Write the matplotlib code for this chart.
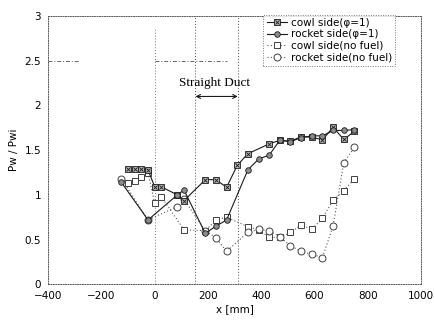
"""
Wall pressure distribution along the combustor (Pw / Pwi vs x).
Saves out.png
"""

import matplotlib
matplotlib.use("Agg")
import matplotlib.pyplot as plt
from matplotlib.legend_handler import HandlerTuple

# cowl side, phi = 1
x_cowl_fuel = [-100, -75, -50, -25, 0, 25, 85, 110, 190, 230, 270, 310, 350,
               430, 470, 510, 550, 590, 630, 670, 710, 750]
y_cowl_fuel = [1.29, 1.29, 1.29, 1.28, 1.09, 1.09, 1.00, 0.935, 1.17, 1.17, 1.085,
               1.33, 1.46, 1.57, 1.61, 1.60, 1.65, 1.645, 1.615, 1.755, 1.62, 1.71]

# rocket side, phi = 1
x_rock_fuel = [-125, -25, 85, 110, 190, 230, 270, 350, 390, 430, 470, 510, 550,
               590, 630, 670, 710, 750]
y_rock_fuel = [1.14, 0.72, 1.00, 1.055, 0.57, 0.65, 0.72, 1.28, 1.40, 1.445, 1.61,
               1.595, 1.64, 1.66, 1.66, 1.72, 1.72, 1.73]

# cowl side, no fuel
x_cowl_none = [-100, -75, -50, -25, 0, 25, 110, 190, 230, 270, 350, 390, 430,
               470, 510, 550, 590, 630, 670, 710, 750]
y_cowl_none = [1.13, 1.15, 1.20, 1.25, 0.905, 0.98, 0.61, 0.60, 0.72, 0.75, 0.645,
               0.61, 0.525, 0.525, 0.58, 0.665, 0.615, 0.74, 0.94, 1.045, 1.18]

# rocket side, no fuel
x_rock_none = [-125, -25, 85, 110, 190, 230, 270, 350, 390, 430, 470, 510, 550,
               590, 630, 670, 710, 750]
y_rock_none = [1.18, 0.72, 0.87, 0.95, 0.60, 0.52, 0.37, 0.58, 0.615, 0.60, 0.53,
               0.43, 0.37, 0.335, 0.30, 0.655, 1.36, 1.53]

duct_start, duct_end = 153, 312

fig = plt.figure(figsize=(4.34, 3.25), dpi=100)
ax = fig.add_axes([0.111, 0.125, 0.859, 0.826])

# reference lines
ax.axvline(0, ymax=0.95, color="0.45", lw=0.7, ls=(0, (1, 2)))
ax.axvline(duct_start, color="0.3", lw=0.7, ls=(0, (1, 2)))
ax.axvline(duct_end, color="0.3", lw=0.7, ls=(0, (1, 2)))
ax.plot([-400, -285], [2.5, 2.5], color="0.4", lw=0.7, ls=(0, (4, 2, 1, 2)))
ax.plot([0, 272], [2.5, 2.5], color="0.4", lw=0.7, ls=(0, (4, 2, 1, 2)))

# no fuel series (dotted, open markers)
l_cn, = ax.plot(x_cowl_none, y_cowl_none, ls=(0, (1, 2)), color="0.35", lw=0.8,
                marker="s", ms=5, mfc="white", mec="0.25", mew=0.7)
l_rn, = ax.plot(x_rock_none, y_rock_none, ls=(0, (1, 2)), color="0.35", lw=0.8,
                marker="o", ms=5, mfc="white", mec="0.25", mew=0.7)

# fuel series (solid, filled markers)
l_cf, = ax.plot(x_cowl_fuel, y_cowl_fuel, ls="-", color="0.1", lw=0.8,
                marker="s", ms=4.5, mfc="0.7", mec="0.1", mew=0.6)
l_cfx, = ax.plot(x_cowl_fuel, y_cowl_fuel, ls="none", marker="x", ms=3.5,
                 mec="0.1", mew=0.6)
l_rf, = ax.plot(x_rock_fuel, y_rock_fuel, ls="-", color="0.1", lw=0.8,
                marker="o", ms=4, mfc="0.55", mec="0.1", mew=0.6)

# straight duct annotation
ax.annotate("", xy=(duct_start, 2.1), xytext=(duct_end, 2.1),
            arrowprops=dict(arrowstyle="<->", color="0.1", lw=0.8,
                            shrinkA=0, shrinkB=0, mutation_scale=7))
ax.text(225, 2.25, "Straight Duct", ha="center", va="center",
        fontsize=9.5, family="Liberation Serif")

ax.set_xlim(-400, 1000)
ax.set_ylim(0, 3)
ax.set_xticks([-400, -200, 0, 200, 400, 600, 800, 1000])
ax.set_yticks([0, 0.5, 1, 1.5, 2, 2.5, 3])
ax.set_yticklabels(["0", "0.5", "1", "1.5", "2", "2.5", "3"])
ax.tick_params(labelsize=7.5, length=0, pad=5)
for s in ax.spines.values():
    s.set_linestyle((0, (1, 1.5)))
    s.set_color("0.35")
    s.set_linewidth(0.7)

ax.set_xlabel("x [mm]", fontsize=7.5, labelpad=2)
ax.set_ylabel("Pw / Pwi", fontsize=7.5, labelpad=4)

leg = ax.legend([(l_cf, l_cfx), l_rf, l_cn, l_rn],
                ["cowl side(φ=1)", "rocket side(φ=1)",
                 "cowl side(no fuel)", "rocket side(no fuel)"],
                handler_map={tuple: HandlerTuple(ndivide=1, pad=0)},
                loc="upper right", bbox_to_anchor=(0.93, 1.005),
                fontsize=7.5, frameon=True, fancybox=False,
                handlelength=2.0, handletextpad=0.3, labelspacing=0.15,
                borderpad=0.3, borderaxespad=0.0)
leg.get_frame().set_edgecolor("0.35")
leg.get_frame().set_linestyle((0, (1, 1.5)))
leg.get_frame().set_linewidth(0.7)

fig.savefig("out.png", dpi=100)
